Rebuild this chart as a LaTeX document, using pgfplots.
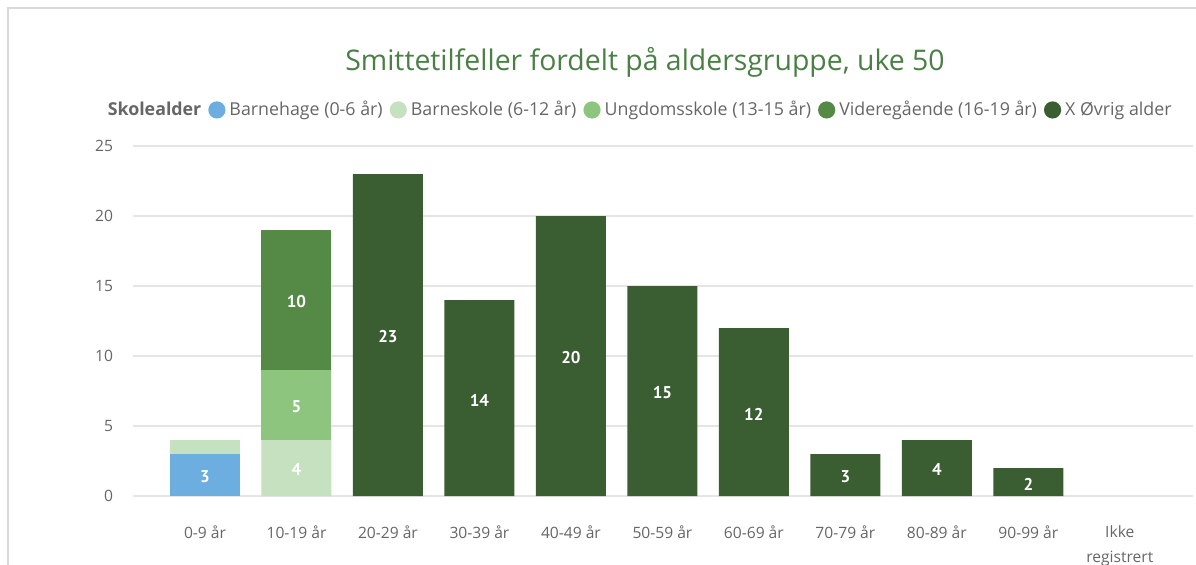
\documentclass[border=0pt]{standalone}
\usepackage{pgfplots}
\pgfplotsset{compat=1.18}
\usepackage{fontspec}
\setmainfont{Open Sans}
\newfontfamily\lblfont{PT Sans}

\definecolor{cBhage}{HTML}{6CAEE0}
\definecolor{cBskole}{HTML}{C5E1BF}
\definecolor{cUskole}{HTML}{8DC47E}
\definecolor{cVgs}{HTML}{548A46}
\definecolor{cOvrig}{HTML}{3A5E31}
\definecolor{cTitle}{HTML}{4A7F45}
\definecolor{cText}{HTML}{666666}
\definecolor{cFrame}{HTML}{D9D9D9}

% stacked values per category 0..10 (0-9 år ... Ikke registrert)
\pgfplotstableread{
x bhage bskole uskole vgs ovrig
0 3 1 0 0 0
1 0 4 5 10 0
2 0 0 0 0 23
3 0 0 0 0 14
4 0 0 0 0 20
5 0 0 0 0 15
6 0 0 0 0 12
7 0 0 0 0 3
8 0 0 0 0 4
9 0 0 0 0 2
10 0 0 0 0 0
}\agedata

% label positions (segment middles) and texts
\pgfplotstableread{
x y lbl
0 1.5 3
1 2 4
1 6.5 5
1 14 10
2 11.5 23
3 7 14
4 10 20
5 7.5 15
6 6 12
7 1.5 3
8 2 4
9 1 2
}\lbldata

\pgfplotsset{
  common/.style={
    scale only axis, width=530pt, height=175pt,
    xmin=-0.787, xmax=10.8, ymin=0, ymax=25,
    at={(0,0)}, anchor=south west,
  }
}

\begin{document}
\begin{tikzpicture}
\useasboundingbox (-66.5pt,-34pt) rectangle (531.5pt,248pt);
\draw[cFrame, line width=1pt] (-62.5pt,-40pt) -- (-62.5pt,244pt) -- (540pt,244pt);
\begin{axis}[common,
  ybar stacked, bar width=35pt,
  axis line style={draw=none}, major tick length=0pt,
  ytick={0,5,...,25}, ymajorgrids, grid style={black!10, line width=0.6pt},
  xtick={0,...,10},
  xticklabels={0-9 år,10-19 år,20-29 år,30-39 år,40-49 år,50-59 år,60-69 år,70-79 år,80-89 år,90-99 år,Ikke\\registrert},
  xticklabel style={font=\fontsize{7.8}{12.5}\selectfont, text=cText, align=center, yshift=-11.5pt},
  yticklabel style={font=\fontsize{7.8}{9}\selectfont, text=cText, xshift=-6.5pt},
  /pgf/number format/assume math mode=true,
  title={Smittetilfeller fordelt på aldersgruppe, uke 50},
  title style={at={(0.483,1.206)}, anchor=center, yshift=0pt, font=\fontsize{14.2}{16}\selectfont, text=cTitle},
  legend columns=-1,
  legend style={at={(0.4906,1.103)}, anchor=center, draw=none, fill=none,
    font=\fontsize{8.9}{10}\selectfont, text=cText,
    /tikz/every even column/.append style={column sep=1.5pt},
    inner sep=0pt},
  legend image code/.code={\fill[#1,draw=none] (0.3em,0) circle (4.3pt);},
]
\addlegendimage{empty legend}
\addlegendentry{\hspace{-1.5em}\textbf{Skolealder}\hspace{0.5em}}
\addplot[fill=cBhage, draw=none] table[x=x, y=bhage] {\agedata};
\addlegendentry{Barnehage (0-6 år)}
\addplot[fill=cBskole, draw=none] table[x=x, y=bskole] {\agedata};
\addlegendentry{Barneskole (6-12 år)}
\addplot[fill=cUskole, draw=none] table[x=x, y=uskole] {\agedata};
\addlegendentry{Ungdomsskole (13-15 år)}
\addplot[fill=cVgs, draw=none] table[x=x, y=vgs] {\agedata};
\addlegendentry{Videregående (16-19 år)}
\addplot[fill=cOvrig, draw=none] table[x=x, y=ovrig] {\agedata};
\addlegendentry{X Øvrig alder}
\end{axis}
\begin{axis}[common, hide axis]
\addplot[only marks, mark=none, nodes near coords, point meta=explicit symbolic,
  every node near coord/.append style={anchor=center, text=white, yshift=-1pt,
    font=\lblfont\bfseries\fontsize{8.5}{9}\selectfont}]
  table[x=x, y=y, meta=lbl] {\lbldata};
\end{axis}
\end{tikzpicture}
\end{document}
